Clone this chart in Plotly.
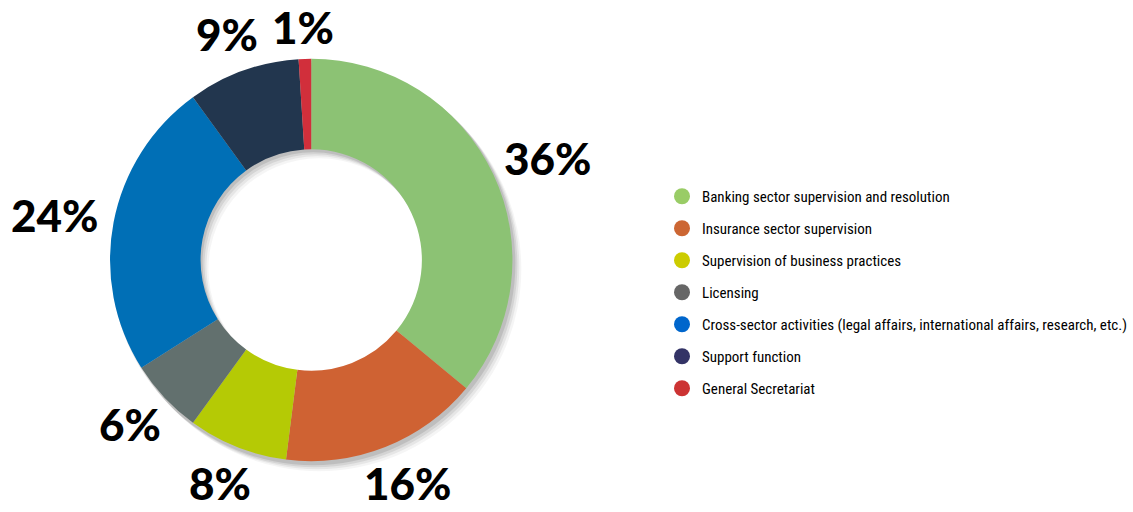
import math
import plotly.graph_objects as go

categories = [
    "Banking sector supervision and resolution",
    "Insurance sector supervision",
    "Supervision of business practices",
    "Licensing",
    "Cross-sector activities (legal affairs, international affairs, research, etc.)",
    "Support function",
    "General Secretariat",
]
shares = [36, 16, 8, 6, 24, 9, 1]
slice_colors = ["#8CC274", "#CF6233", "#B5CA05", "#62706E", "#006FB6", "#22364E", "#D12F3B"]
legend_colors = ["#99CC66", "#CC6633", "#CCCC00", "#666666", "#0066CC", "#333366", "#CC3333"]

W, H = 1133, 512
cx, cy, r = 314, 260, 203
HOLE = 0.55
LABEL_SIZE = 44

def dom(cx, cy, r):
    return dict(x=[(cx - r) / W, (cx + r) / W], y=[1 - (cy + r) / H, 1 - (cy - r) / H])

fig = go.Figure()

# soft drop shadow layers (bottom-right)
for dx, dy, a in [(8, 9, 0.04), (6, 7, 0.06), (4, 5, 0.08), (2, 3, 0.10)]:
    fig.add_trace(go.Pie(
        values=[1], hole=HOLE * r / (r + 1), sort=False, showlegend=False,
        marker=dict(colors=[f"rgba(0,0,0,{a})"], line=dict(width=0)),
        textinfo="none", hoverinfo="skip",
        domain=dom(cx + dx, cy + dy, r + 1),
    ))

fig.add_trace(go.Pie(
    labels=categories, values=shares, hole=HOLE, sort=False,
    direction="clockwise", rotation=0, showlegend=False,
    marker=dict(colors=slice_colors, line=dict(width=0)),
    textinfo="none",
    domain=dom(cx, cy, r),
))

# percentage labels placed outside each slice at its mid-angle
total = sum(shares)
cum = 0
R0 = r + 21
for v in shares:
    mid = (cum + v / 2) / total * 2 * math.pi
    cum += v
    s, c = math.sin(mid), math.cos(mid)
    text = f"{v}%"
    w = len(text) * 0.6 * LABEL_SIZE
    h = 0.72 * LABEL_SIZE
    px = cx + R0 * s + s * w / 2
    py = cy - R0 * c - c * h / 2
    py = min(max(py, 0.62 * LABEL_SIZE), H - 0.62 * LABEL_SIZE)
    fig.add_annotation(
        x=px / W, y=1 - py / H, xref="paper", yref="paper",
        text=text, showarrow=False, xanchor="center", yanchor="middle",
        borderpad=0,
        font=dict(family="Lato", size=LABEL_SIZE, color="#000000", weight=900),
    )

for name, col in zip(categories, legend_colors):
    fig.add_trace(go.Scatter(
        x=[None], y=[None], mode="markers", name=name, legendgroup=name,
        marker=dict(color=col, size=16, symbol="circle"),
    ))

fig.update_layout(
    width=W, height=H,
    margin=dict(l=0, r=0, t=0, b=0),
    paper_bgcolor="white", plot_bgcolor="white",
    xaxis=dict(visible=False), yaxis=dict(visible=False),
    showlegend=True,
    legend=dict(
        x=668 / W, xanchor="left", y=1 - 180 / H, yanchor="top",
        font=dict(family="Liberation Sans Narrow, Roboto Condensed, Arial Narrow, sans-serif", size=15, color="#000000"),
        tracegroupgap=9.5, bgcolor="rgba(0,0,0,0)",
    ),
)

fig.write_html("out.html")
